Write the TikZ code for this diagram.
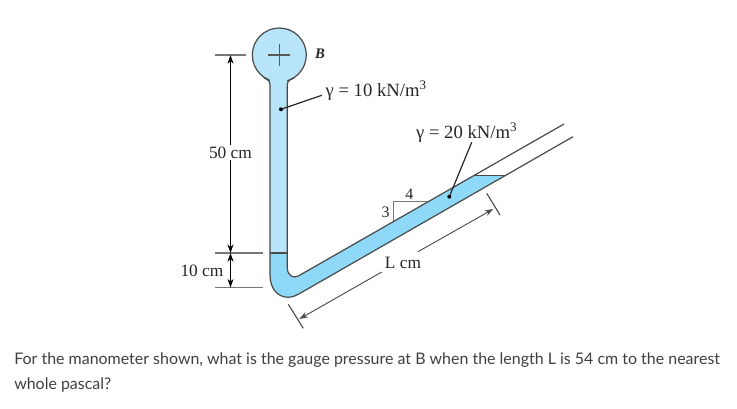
\documentclass[tikz,border=0pt]{standalone}
\usepackage{fontspec}
\setmainfont{Liberation Serif}
\newfontfamily\questionfont{Lato}
\usetikzlibrary{arrows.meta}
\definecolor{lightfluid}{HTML}{B9E5FB}
\definecolor{darkfluid}{HTML}{8ED8F8}
\definecolor{wallcol}{HTML}{4A4A4A}
\definecolor{tickcol}{HTML}{777777}
\definecolor{questioncol}{HTML}{3F3F3F}
\begin{document}
\begin{tikzpicture}[x=0.75pt,y=-0.75pt,
    wall/.style={draw=wallcol,line width=0.9pt},
    tick/.style={draw=tickcol,line width=0.85pt},
    dimline/.style={draw=black,line width=0.7pt},
    dimarrow/.style={dimline,-{Stealth[length=6.5pt,width=4.5pt]}},
    dimboth/.style={dimline,{Stealth[length=6.5pt,width=4.5pt]}-{Stealth[length=6.5pt,width=4.5pt]}},
    leader/.style={draw=black!85,line width=0.9pt},
    lab/.style={font=\fontsize{13}{15}\selectfont,inner sep=1pt,text=black!85},
    gammalab/.style={lab,font=\fontsize{14}{16}\selectfont,anchor=west},
    dot/.style={circle,fill=black,inner sep=0pt,minimum size=3pt},
  ]
\useasboundingbox (0,0) rectangle (737,408);
% bulb and the light fluid
\node[circle,wall,fill=lightfluid,inner sep=0pt,minimum size=40.5pt] (bulb) at (279.3,55) {};
\fill[lightfluid] (270.4,74) rectangle (287,254);
\draw[wall,draw=black!65] (268.3,55) -- (290.3,55) (279.3,44) -- (279.3,66);
% heavy fluid in the bend and slope
\fill[darkfluid] (270,253) -- (270,275) .. controls (270,289) and (278,297.3) .. (288.3,297.3)
  .. controls (292,297.3) and (295,296) .. (298.3,294.3) -- (505,175.7) -- (473,175.7) -- (298.3,276)
  .. controls (293,279) and (287.3,275) .. (287.3,268) -- (287.3,253) -- cycle;
% walls
\draw[wall] (264,78) .. controls (268,79.5) and (270,81) .. (270,85) -- (270,275)
  .. controls (270,289) and (278,297.3) .. (288.3,297.3)
  .. controls (292,297.3) and (295,296) .. (298.3,294.3) -- (573,136.7);
\draw[wall] (294,78) .. controls (290,79.5) and (287.3,81) .. (287.3,85) -- (287.3,268)
  .. controls (287.3,275) and (293,279) .. (298.3,276) -- (564,124);
\draw[wall] (270,253) -- (287.3,253);
\draw[wall] (473,175.7) -- (505,175.7);
% vertical dimensions
\coordinate (topa) at (215,55);
\coordinate (topb) at (246,55);
\coordinate (mida) at (215,253);
\coordinate (midb) at (263,253);
\coordinate (lowa) at (215,287.5);
\coordinate (lowb) at (263,287.5);
\draw[tick] (topa) -- (topb);
\draw[tick] (mida) -- (midb);
\draw[tick] (lowa) -- (lowb);
\node[lab] (fifty) at (230.5,152.5) {50 cm};
\node[lab] (ten) at (202,270.5) {10 cm};
\coordinate (dimtop) at (230.5,55);
\coordinate (dimmid) at (230.5,253);
\coordinate (dimlow) at (230.5,287.5);
\draw[dimarrow] (fifty.north) -- (dimtop);
\draw[dimarrow] (fifty.south) -- (dimmid);
\draw[dimboth] (dimmid) -- (dimlow);
% length along the slope
\coordinate (enda) at (288.3,304.3);
\coordinate (endb) at (303.3,328.3);
\coordinate (endc) at (486.7,193.3);
\coordinate (endd) at (500,215);
\draw[tick,draw=black!70] (enda) -- (endb);
\draw[tick,draw=black!70] (endc) -- (endd);
\node[lab] (length) at (403,263) {L cm};
\coordinate (lena) at (299.3,319);
\coordinate (lenb) at (381.7,272);
\coordinate (lenc) at (418,251.7);
\coordinate (lend) at (493.3,209);
\draw[dimarrow,draw=black!70] (lenb) -- (lena);
\draw[dimarrow,draw=black!70] (lenc) -- (lend);
% slope triangle
\coordinate (tria) at (393.3,220.7);
\coordinate (trib) at (393.3,201.7);
\coordinate (tric) at (426.7,201.7);
\draw[tick] (tria) -- (trib) -- (tric);
\node[lab,font=\fontsize{12}{14}\selectfont] (four) at (409.3,194.5) {4};
\node[lab,font=\fontsize{12}{14}\selectfont] (three) at (385.5,212) {3};
% labels and leaders
\node[lab,font=\fontsize{11}{13}\selectfont\bfseries\itshape] (bname) at (320,53.5) {B};
\node[gammalab] (gammaone) at (324,90.5) {γ = 10 kN/m\textsuperscript{3}};
\node[gammalab] (gammatwo) at (414.5,132.5) {γ = 20 kN/m\textsuperscript{3}};
\node[dot] (dotone) at (281,109.3) {};
\node[dot] (dottwo) at (449.3,196.7) {};
\coordinate (leadone) at (321.7,95.3);
\coordinate (leadtwo) at (471.7,142.3);
\draw[leader] (leadone) -- (dotone);
\draw[leader] (leadtwo) -- (dottwo);
% question
\node[anchor=west,inner sep=0pt,text=questioncol,font=\questionfont\fontsize{11.97}{14}\selectfont] (questiona) at (14,360)
  {For the manometer shown, what is the gauge pressure at B when the length L is 54 cm to the nearest};
\node[anchor=west,inner sep=0pt,text=questioncol,font=\questionfont\fontsize{11.97}{14}\selectfont] (questionb) at (14,385)
  {whole pascal?};
\end{tikzpicture}
\end{document}
